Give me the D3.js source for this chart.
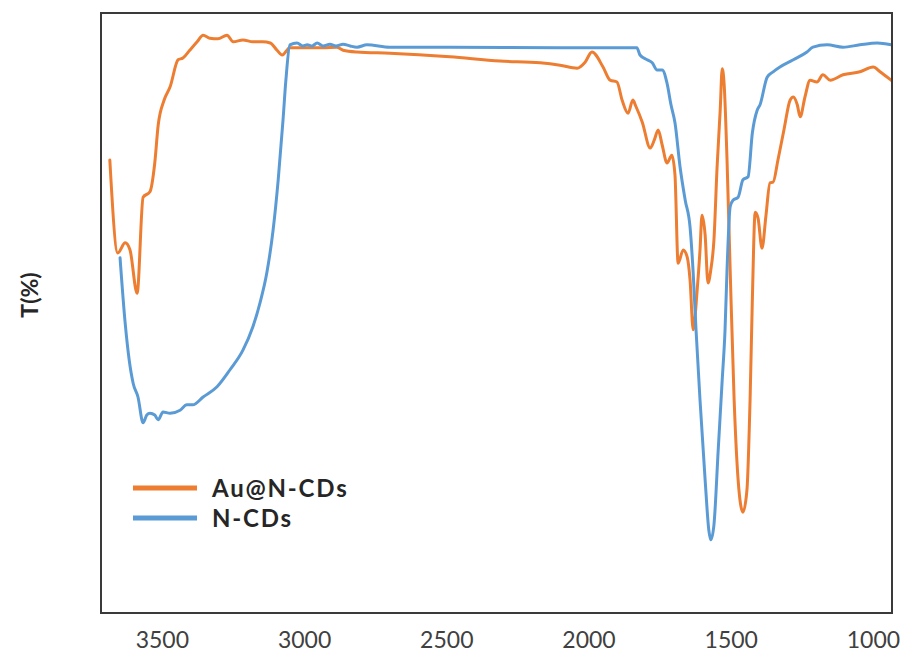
<!DOCTYPE html>
<html>
<head>
<meta charset="utf-8">
<script src="https://cdn.jsdelivr.net/npm/d3@7"></script>
<style>
  html, body { margin: 0; padding: 0; background: #fff; }
  svg { display: block; }
</style>
</head>
<body>
<svg id="chart" width="921" height="667"></svg>
<script>
// FTIR spectra: wavenumber (cm-1) and transmittance (arbitrary %)
const auWavenumber = [3683,3655,3629,3612,3587,3566,3542,3525,3513,3492,3471,3443,3426,3402,3376,3355,3331,3303,3271,3249,3215,3180,3145,3119,3095,3077,3050,2989,2933,2885,2863,2814,2698,2487,2311,2170,2100,2040,2012,1988,1949,1924,1900,1882,1861,1844,1834,1811,1783,1769,1755,1741,1724,1707,1696,1685,1667,1653,1643,1632,1618,1608,1601,1590,1580,1570,1559,1548,1537,1530,1523,1513,1502,1488,1474,1457,1443,1432,1424,1414,1404,1390,1376,1362,1351,1334,1313,1291,1280,1266,1256,1239,1221,1197,1176,1150,1105,1046,999,975,936];
const auTransmittance = [75.5,60.0,61.7,60.5,53.3,69.3,70.2,75.0,81.3,85.5,87.7,92.2,92.5,93.8,95.2,96.3,95.8,95.7,96.3,95.2,95.5,95.2,95.2,95.0,93.8,93.0,94.2,94.2,94.2,94.3,93.8,93.5,93.3,92.7,92.0,91.7,91.3,90.8,91.8,93.5,91.0,88.8,88.5,85.5,83.3,85.5,84.5,81.8,77.5,78.8,80.5,78.0,75.0,76.3,73.0,58.3,60.5,59.3,55.5,47.2,53.8,60.5,66.3,63.0,55.0,57.2,62.2,74.3,83.8,90.7,88.0,75.5,57.2,35.5,22.2,16.8,20.5,35.5,52.2,66.8,65.8,60.8,66.3,71.7,71.8,75.5,80.5,85.5,86.0,84.7,82.7,86.0,88.8,88.5,89.7,88.8,89.7,90.2,91.0,90.2,88.8];

const ncdWavenumber = [3647,3629,3615,3601,3584,3566,3553,3542,3525,3513,3496,3471,3436,3412,3391,3355,3306,3261,3215,3180,3155,3131,3109,3091,3074,3064,3050,3025,3004,2989,2972,2954,2933,2909,2888,2863,2838,2814,2779,2698,2487,2100,1830,1819,1794,1776,1759,1741,1724,1710,1696,1678,1660,1643,1632,1622,1608,1590,1577,1570,1559,1544,1530,1520,1513,1502,1492,1474,1457,1439,1424,1407,1397,1372,1351,1327,1280,1232,1211,1161,1105,1046,985,936];
const ncdTransmittance = [59.2,48.3,42.2,38.3,36.0,31.7,33.0,33.3,33.0,32.2,33.5,33.3,33.8,34.7,34.7,36.0,37.7,40.5,43.8,47.7,51.7,56.7,63.8,72.2,82.2,88.8,94.7,95.0,94.5,94.7,94.5,95.0,94.5,94.8,94.5,94.8,94.5,94.3,94.7,94.3,94.3,94.2,94.2,93.0,92.2,91.7,90.5,90.5,88.3,84.7,81.7,74.3,68.8,64.3,56.7,47.2,35.5,22.2,13.8,12.2,14.7,27.2,38.8,47.2,57.2,67.7,68.8,69.3,72.2,72.7,80.0,83.8,84.7,89.3,90.2,91.0,92.2,93.5,94.3,94.7,94.3,94.7,95.0,94.7];

const xTicks = [3500, 3000, 2500, 2000, 1500, 1000];
const seriesNames = ["Au@N-CDs", "N-CDs"];
const seriesColors = ["#ED7D31", "#5B9BD5"];

const svg = d3.select("#chart");
const plot = { left: 101, right: 892, top: 13, bottom: 613 };

const x = d3.scaleLinear().domain([3714, 933]).range([plot.left, plot.right]);
const y = d3.scaleLinear().domain([0, 100]).range([plot.bottom, plot.top]);

const series = [
  { name: seriesNames[0], color: seriesColors[0],
    points: auWavenumber.map((w, i) => [w, auTransmittance[i]]) },
  { name: seriesNames[1], color: seriesColors[1],
    points: ncdWavenumber.map((w, i) => [w, ncdTransmittance[i]]) }
];

const line = d3.line()
  .x(d => x(d[0]))
  .y(d => y(d[1]))
  .curve(d3.curveMonotoneX);

// spectra
svg.append("g")
  .selectAll("path")
  .data(series)
  .join("path")
  .attr("d", d => line(d.points))
  .attr("fill", "none")
  .attr("stroke", d => d.color)
  .attr("stroke-width", 3)
  .attr("stroke-linejoin", "round")
  .attr("stroke-linecap", "round");

// plot frame
svg.append("rect")
  .attr("x", plot.left)
  .attr("y", plot.top)
  .attr("width", plot.right - plot.left)
  .attr("height", plot.bottom - plot.top)
  .attr("fill", "none")
  .attr("stroke", "#3a3a3a")
  .attr("stroke-width", 2);

// x axis labels (no tick marks)
const xAxis = d3.axisBottom(x).tickValues(xTicks).tickSize(0).tickPadding(19).tickFormat(d3.format("d"));
const gx = svg.append("g")
  .attr("transform", `translate(0,${plot.bottom})`)
  .call(xAxis);
gx.select(".domain").remove();
gx.selectAll("text")
  .attr("font-family", "Lato, 'Open Sans', sans-serif")
  .attr("font-size", 23)
  .attr("fill", "#404040");

// y axis title
svg.append("text")
  .attr("transform", "translate(38,295) rotate(-90)")
  .attr("text-anchor", "middle")
  .attr("font-family", "Lato, 'Open Sans', sans-serif")
  .attr("font-weight", "bold")
  .attr("font-size", 23)
  .attr("fill", "#262626")
  .text("T(%)");

// legend
const legend = svg.append("g").attr("transform", "translate(133,488)");
const items = legend.selectAll("g")
  .data(series)
  .join("g")
  .attr("transform", (d, i) => `translate(0,${i * 30})`);
items.append("line")
  .attr("x1", 0).attr("x2", 64)
  .attr("y1", 0).attr("y2", 0)
  .attr("stroke", d => d.color)
  .attr("stroke-width", 5);
items.append("text")
  .attr("x", 79)
  .attr("y", 1)
  .attr("dy", "0.35em")
  .attr("font-family", "Lato, 'Open Sans', sans-serif")
  .attr("font-weight", "bold")
  .attr("font-size", 24)
  .attr("letter-spacing", 1.8)
  .attr("fill", "#262626")
  .text(d => d.name);
</script>
</body>
</html>
